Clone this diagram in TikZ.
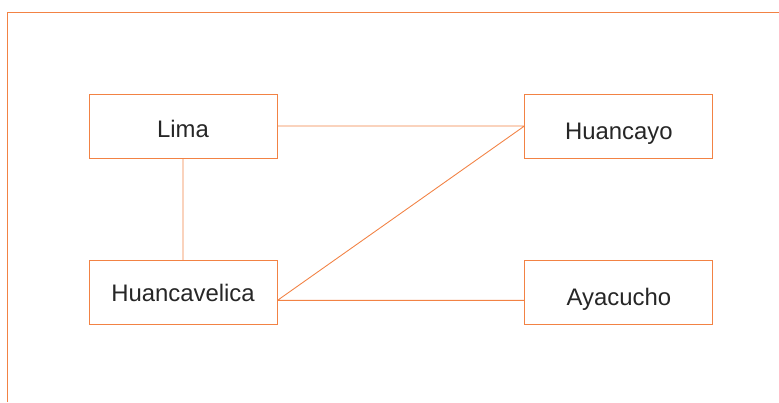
\documentclass[tikz,border=0pt]{standalone}
\usepackage{fontspec}
\setmainfont{Liberation Sans}
\usetikzlibrary{positioning}
\definecolor{lineorange}{RGB}{242,130,68}

\begin{document}
\begin{tikzpicture}[semithick,line width=0.5pt,draw=lineorange,
                    city/.style={shape=rectangle,draw=lineorange,minimum width=3.76cm,
                                 minimum height=1.28cm,inner sep=0pt,text depth=0pt,
                                 font=\fontsize{13.6}{16}\selectfont,text=black!85}]

  \useasboundingbox (0,0) rectangle (15.58,-8.04);
  \draw[lineorange] (0.15,-8.04) |- (15.58,-0.24);

  \node[city,text height=0.44cm] (lima) at (3.66,-2.52) {Lima};
  \node[city,text height=0.52cm] (huancayo) [right=4.94cm of lima] {Huancayo};
  \node[city,text height=0.36cm] (huancavelica) [below=2.04cm of lima] {Huancavelica};
  \node[city,text height=0.52cm] (ayacucho) [below=2.04cm of huancayo] {Ayacucho};

  \draw[lineorange] (lima) -- (huancayo)
        (lima) -- (huancavelica)
        ([yshift=-0.15cm]huancavelica.east) -- (huancayo.west)
        ([yshift=-0.15cm]huancavelica.east) -- ([yshift=-0.15cm]ayacucho.west);
\end{tikzpicture}
\end{document}
